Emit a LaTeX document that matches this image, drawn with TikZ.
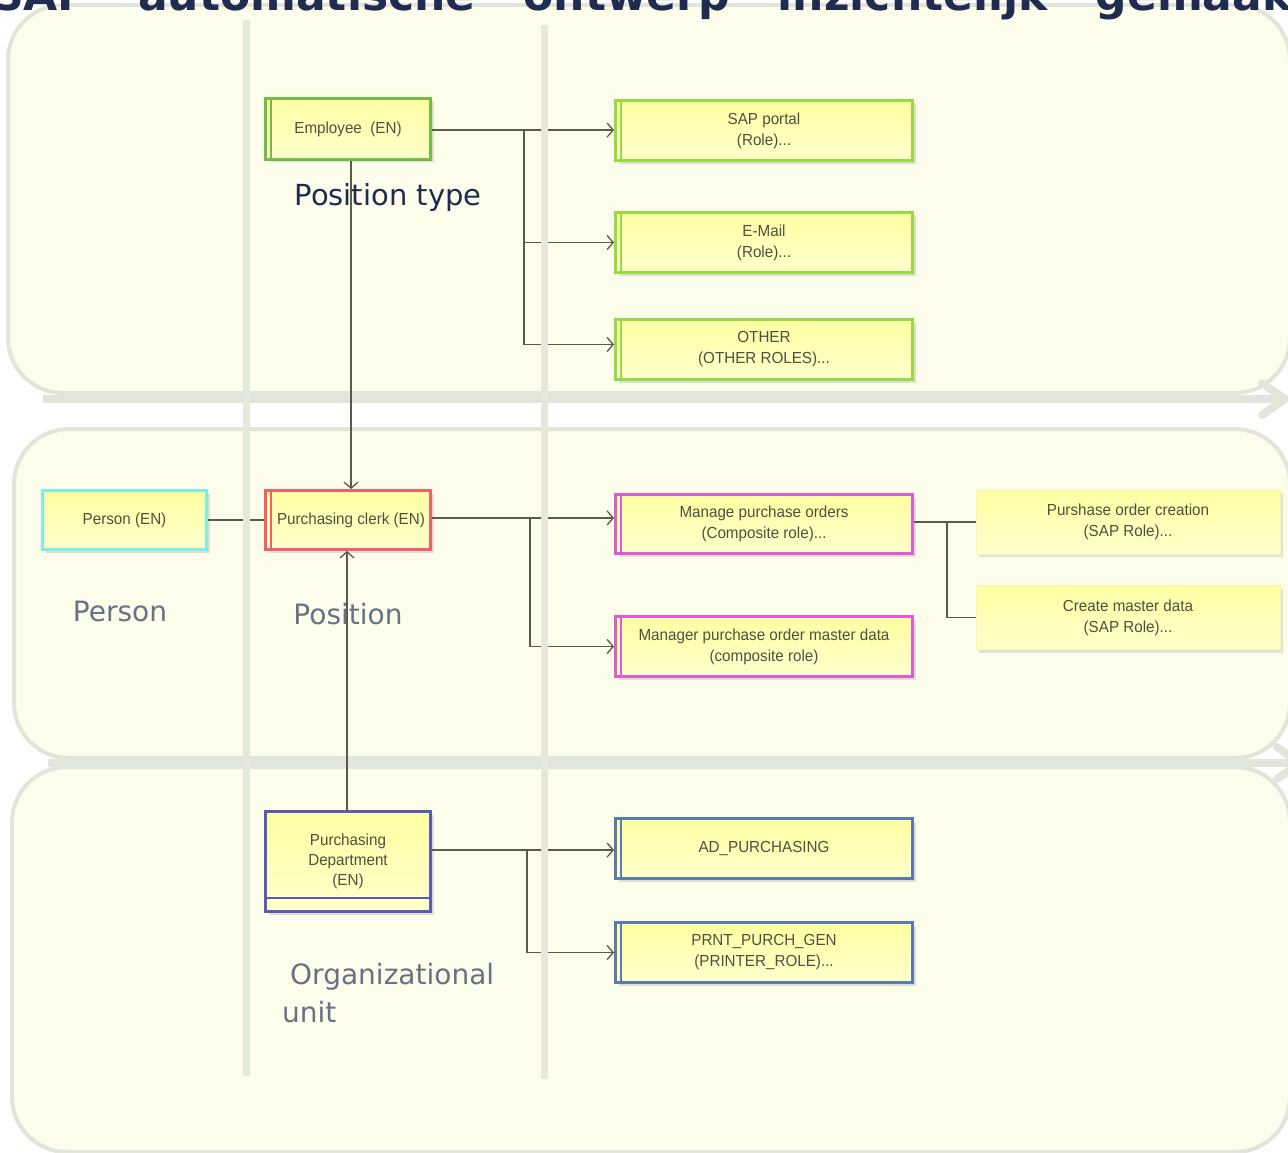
\documentclass[tikz,border=0pt]{standalone}
\usepackage{fontspec}
\setmainfont{DejaVu Sans}
\newfontfamily\boxfont[FakeStretch=0.95]{Liberation Sans}
\newfontfamily\labfont{DejaVu Sans}
\usetikzlibrary{arrows.meta,shadows}
\definecolor{lanefill}{HTML}{FDFDEB}
\definecolor{laneline}{HTML}{E1E5DA}
\definecolor{vline}{HTML}{E4E9DB}
\definecolor{boxtop}{HTML}{FFFFA2}
\definecolor{boxbot}{HTML}{FFFFCC}
\definecolor{boxtext}{HTML}{505040}
\definecolor{connc}{HTML}{5A5A4A}
\definecolor{navy}{HTML}{1F2C50}
\definecolor{slate}{HTML}{677282}
\definecolor{cgreen}{HTML}{74BC48}
\definecolor{lgreen}{HTML}{95DB45}
\definecolor{ccyan}{HTML}{7DF0E6}
\definecolor{cred}{HTML}{F0606A}
\definecolor{cmag}{HTML}{DC5DD2}
\definecolor{cpurple}{HTML}{5B5BB5}
\definecolor{csteel}{HTML}{5A7AB2}
\definecolor{plainedge}{HTML}{F6F6B0}
\tikzset{
  lane/.style={draw=laneline, line width=4pt, fill=lanefill, rounded corners=55pt},
  harrow/.style={draw=laneline, line width=8pt},
  vlane/.style={draw=vline, line width=7pt},
  box/.style={draw=#1, line width=3pt, top color=boxtop, bottom color=boxbot,
    text=boxtext, font=\boxfont\fontsize{16}{21}\selectfont, align=center, inner sep=2pt,
    drop shadow={shadow xshift=3pt, shadow yshift=-3pt, fill=black!35, opacity=0.35}},
  plainbox/.style={draw=plainedge, line width=1pt, top color=boxtop, bottom color=boxbot,
    text=boxtext, font=\boxfont\fontsize{16}{21}\selectfont, align=center, inner sep=2pt,
    drop shadow={shadow xshift=3pt, shadow yshift=-3pt, fill=black!35, opacity=0.3}},
  conn/.style={draw=connc, line width=1.3pt},
  trunk/.style={draw=connc, line width=2.2pt},
  arr/.style={-{Straight Barb[length=6pt,width=14pt]}},
  biglab/.style={font=\labfont\fontsize{28}{38}\selectfont, text=slate, inner sep=0pt},
  titlab/.style={font=\labfont\bfseries\fontsize{44}{44}\selectfont, text=navy, inner sep=0pt, anchor=base west},
}
\begin{document}
\begin{tikzpicture}[x=1pt,y=-1pt]
\useasboundingbox (0,0) rectangle (1288,1153);
\begin{scope}
\clip (0,0) rectangle (1288,1153);
\fill[white] (0,0) rectangle (1288,1153);
% lanes
\path[lane] (8,5) rectangle (1290,393);
\path[lane] (14,429) rectangle (1290,758);
\path[lane] (12,767) rectangle (1290,1152);
% horizontal arrows
\draw[harrow] (43,399) -- (1284,399);
\draw[harrow, line cap=round, line join=miter] (1262,383) -- (1285,399) -- (1262,415);
\draw[harrow] (48,763) -- (1300,763);
\draw[harrow, line cap=round, line join=miter] (1277,747) -- (1300,763) -- (1277,779);
% title (cut off at the top edge, as in the reference)
\node[titlab] (title) at (-8,11) {\spaceskip=48pt SAP automatische ontwerp inzichtelijk gemaakt};
\end{scope}

% nodes
\node[box=cgreen, minimum width=165pt, minimum height=61pt] (emp) at (348,129) {Employee\ \ (EN)};
\node[box=lgreen, minimum width=297pt, minimum height=60pt] (sap) at (764,131) {SAP portal\\(Role)...};
\node[box=lgreen, minimum width=297pt, minimum height=60pt] (email) at (764,242.5) {E-Mail\\(Role)...};
\node[box=lgreen, minimum width=297pt, minimum height=60pt] (other) at (764,349.5) {OTHER\\(OTHER ROLES)...};
\node[box=ccyan, minimum width=164pt, minimum height=59pt] (person) at (124.5,520) {Person (EN)};
\node[box=cred, minimum width=165pt, minimum height=59pt] (clerk) at (348,520) {\hspace*{6pt}Purchasing clerk (EN)};
\node[box=cmag, minimum width=297pt, minimum height=59pt] (manage) at (764,524) {Manage purchase orders\\(Composite role)...};
\node[box=cmag, minimum width=297pt, minimum height=60pt] (manager) at (764,646.5) {Manager purchase order master data\\(composite role)};
\node[plainbox, minimum width=304pt, minimum height=64pt] (poc) at (1128,522) {Purshase order creation\\(SAP Role)...};
\node[plainbox, minimum width=304pt, minimum height=64pt] (cmd) at (1128,617.5) {Create master data\\(SAP Role)...};
\node[box=cpurple, minimum width=165pt, minimum height=100pt] (dept) at (348,861.5) {Purchasing\\[-1pt]Department\\[-1pt](EN)};
\node[box=csteel, minimum width=297pt, minimum height=60pt] (adp) at (764,848.5) {AD\_PURCHASING};
\node[box=csteel, minimum width=297pt, minimum height=60pt] (prnt) at (764,952.5) {PRNT\_PURCH\_GEN\\(PRINTER\_ROLE)...};

% inner left bars
\foreach \n/\c in {emp/cgreen, sap/lgreen, email/lgreen, other/lgreen, clerk/cred, manage/cmag, manager/cmag, adp/csteel, prnt/csteel}{
  \draw[draw=\c, line width=2pt] ([xshift=7pt,yshift=-1.5pt]\n.north west) -- ([xshift=7pt,yshift=1.5pt]\n.south west);
}
% bottom strip of department
\draw[draw=cpurple, line width=2.5pt] ([xshift=1.5pt]dept.west |- 0,898) -- ([xshift=-1.5pt]dept.east |- 0,898);

% connectors
\coordinate (t1) at (524,130);
\draw[trunk] (emp.east |- t1) -- (t1);
\draw[conn, arr] (t1) -- (sap.west |- t1);
\draw[conn, arr] (t1) |- (email.west);
\draw[conn, arr] ([yshift=-6pt]t1) |- ([yshift=5pt]other.west);
\draw[conn, arr] ([xshift=3pt]emp.south) -- ([xshift=3pt]clerk.north);
\draw[conn, arr] ([xshift=-1pt]dept.north) -- ([xshift=-1pt]clerk.south);
\draw[conn] (person.east) -- (clerk.west);
\coordinate (t2) at (530,518);
\draw[conn] (clerk.east |- t2) -- (t2);
\draw[conn, arr] (t2) -- (manage.west |- t2);
\draw[conn, arr] (t2) |- (manager.west);
\coordinate (t3) at (947,522);
\draw[conn] (manage.east |- t3) -- (t3);
\draw[conn] (t3) -- (poc.west |- t3);
\draw[conn] (t3) |- (cmd.west);
\coordinate (t4) at (527,850);
\draw[trunk] (dept.east |- t4) -- (t4);
\draw[conn, arr] (t4) -- (adp.west |- t4);
\draw[conn, arr] (t4) |- (prnt.west);

% vertical lane lines
\draw[vlane] (246,20) -- (246,1076);
\draw[vlane] (544,25) -- (544,1079);

% labels
\node[font=\labfont\fontsize{29}{36}\selectfont, text=navy, inner sep=0pt, anchor=base] (lpt) at (388,205) {Position type};
\node[biglab, anchor=base] (lperson) at (120,621) {Person};
\node[biglab, anchor=base] (lpos) at (348,624) {Position};
\node[biglab, anchor=north west, align=left] (lorg) at (282,963) {\hspace*{8pt}Organizational\\unit};
\end{tikzpicture}
\end{document}
